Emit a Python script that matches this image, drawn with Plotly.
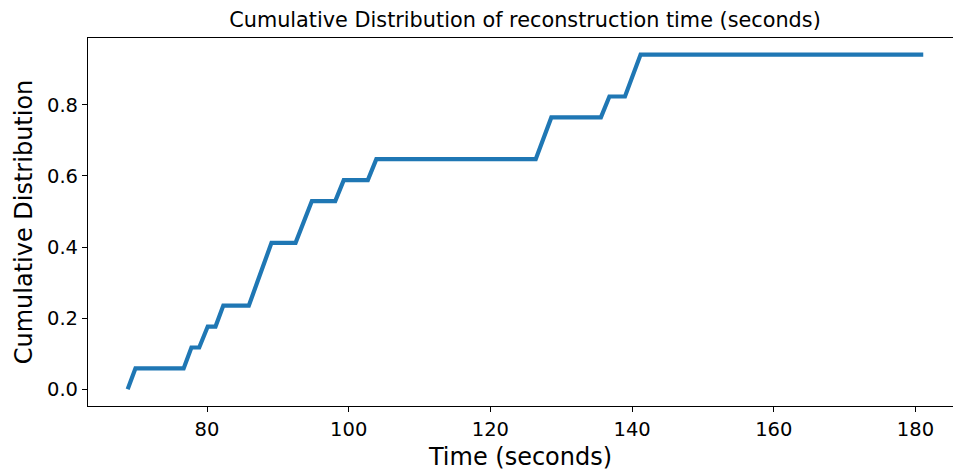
import plotly.graph_objects as go

# Corners of the cumulative curve (time in seconds, cumulative fraction)
time_s = [68.8, 69.9, 76.7, 77.8, 78.9, 80.1, 81.2, 82.3, 85.9, 89.1,
          92.5, 94.8, 98.1, 99.3, 102.7, 103.9, 126.4, 128.6, 135.6, 136.8,
          139.0, 141.2, 181.1]
cum_frac = [0.0, 0.0588, 0.0588, 0.1176, 0.1176, 0.1765, 0.1765, 0.2353, 0.2353, 0.4118,
            0.4118, 0.5294, 0.5294, 0.5882, 0.5882, 0.6471, 0.6471, 0.7647, 0.7647, 0.8235,
            0.8235, 0.9412, 0.9412]

x_ticks = [80, 100, 120, 140, 160, 180]
y_ticks = [0.0, 0.2, 0.4, 0.6, 0.8]

FONT = "DejaVu Sans"

fig = go.Figure(
    go.Scatter(
        x=time_s,
        y=cum_frac,
        mode="lines",
        line=dict(color="#1f77b4", width=4.2),
        hoverinfo="skip",
    )
)

fig.update_layout(
    width=953,
    height=471,
    margin=dict(l=88, r=0, t=38, b=65),
    paper_bgcolor="white",
    plot_bgcolor="white",
    showlegend=False,
    title=dict(
        text="Cumulative Distribution of reconstruction time (seconds)",
        font=dict(family=FONT, size=20.8, color="black"),
        x=525 / 953,
        xref="container",
        xanchor="center",
        y=1 - 20 / 471,
        yanchor="middle",
    ),
)

fig.update_xaxes(
    range=[63.2, 185.3],
    tickvals=x_ticks,
    ticktext=[str(v) for v in x_ticks],
    ticks="outside",
    ticklen=5,
    tickwidth=1.2,
    tickcolor="black",
    showline=True,
    linecolor="black",
    linewidth=1.2,
    mirror=True,
    showgrid=False,
    zeroline=False,
    tickfont=dict(family=FONT, size=19.5, color="black"),
    title=dict(text="Time (seconds)", font=dict(family=FONT, size=24, color="black"), standoff=8),
)

fig.update_yaxes(
    range=[-0.047, 0.988],
    tickvals=y_ticks,
    ticktext=[f"{v:.1f}" for v in y_ticks],
    ticks="outside",
    ticklen=5,
    tickwidth=1.2,
    tickcolor="black",
    showline=True,
    linecolor="black",
    linewidth=1.2,
    mirror=False,
    showgrid=False,
    zeroline=False,
    tickfont=dict(family=FONT, size=19.5, color="black"),
    title=dict(text="Cumulative Distribution", font=dict(family=FONT, size=24, color="black"), standoff=7),
)

fig.write_html("out.html")
